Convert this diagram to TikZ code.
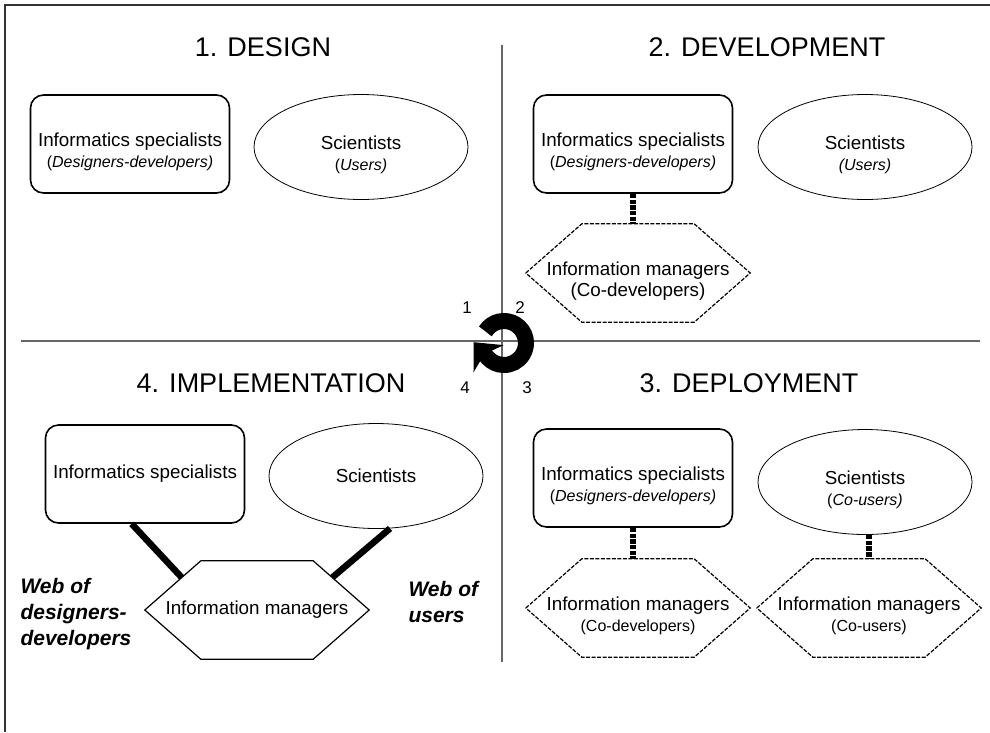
\documentclass[tikz,border=0pt]{standalone}
\usepackage{fontspec}
\setmainfont{Liberation Sans}
\usetikzlibrary{shapes.geometric,arrows.meta,calc}
\newcommand{\bodyfont}{\fontsize{18.8}{21}\selectfont}
\newcommand{\subfont}{\fontsize{16}{21}\selectfont}
\newcommand{\headfont}{\fontsize{27}{30}\selectfont}
% hexagon round a managers node
\newcommand{\hexpath}[1]{(#1.west) -- ([xshift=56pt]#1.north west) coordinate (#1-nw) -- ([xshift=-56pt]#1.north east) coordinate (#1-ne) -- (#1.east) -- ([xshift=-56pt]#1.south east) -- ([xshift=56pt]#1.south west) -- cycle}
\begin{document}
\begin{tikzpicture}[x=1pt,y=-1pt,
   informatics/.style={draw,line width=1.6pt,rounded corners=13pt,minimum width=199pt,minimum height=98pt,inner sep=0pt,align=center,font=\bodyfont},
   scientists/.style={ellipse,draw,line width=0.8pt,minimum width=214pt,minimum height=105pt,inner sep=0pt,align=center,font=\bodyfont},
   managers/.style={minimum width=224pt,minimum height=98pt,inner sep=0pt,align=center,font=\bodyfont},
   twoline/.style={text height=51pt},
   hexline/.style={line width=1.2pt},
   codash/.style={dash pattern=on 4pt off 1.5pt},
   tie/.style={line width=6.5pt},
   dottie/.style={line width=6pt,dash pattern=on 4.5pt off 1.2pt},
   phase/.style={font=\headfont},
   step num/.style={font=\fontsize{17}{20}\selectfont},
   web/.style={font=\fontsize{21}{26}\selectfont\bfseries\itshape,align=left,anchor=west}]
\useasboundingbox (0,0) rectangle (990,732);
% frame and quadrants
\draw[line width=1.8pt,black!80] (5,732) -- (5,5) -- (990,5);
\draw[line width=1.8pt,black!60] (502,45) -- (502,662);
\draw[line width=1.8pt,black!60] (21,341) -- (980,341);

% phase titles
\node[phase] (t1) at (263,47) {1. DESIGN};
\node[phase] (t2) at (767,47) {2. DEVELOPMENT};
\node[phase] (t4) at (271,383) {4. IMPLEMENTATION};
\node[phase] (t3) at (749,383) {3. DEPLOYMENT};

% cycle arrow
\coordinate (c) at (504,343);
\draw[line width=16pt,-{Stealth[width=40pt 0,length=22pt 0,inset=6pt 0]}] (c) ++(148:22pt) arc[start angle=148,end angle=-135,radius=22pt] -- ++(132:22pt);
\node[step num] (n1) at (467,308) {1};
\node[step num] (n2) at (520,308) {2};
\node[step num] (n4) at (465,388) {4};
\node[step num] (n3) at (527,388) {3};

% 1. design
\node[informatics,twoline] (inf1) at (130,144) {Informatics specialists\\{\subfont(\textit{Designers-developers)}}};
\node[scientists,twoline] (sci1) at (361,147) {Scientists\\{\subfont(\textit{Users)}}};

% 2. development
\node[informatics,twoline] (inf2) at (633,144) {Informatics specialists\\{\subfont(\textit{Designers-developers)}}};
\node[scientists,twoline] (sci2) at (865,147) {Scientists\\{\subfont\textit{(Users)}}};
\node[managers,twoline] (man2) at (638,273) {Information managers\\(Co-developers)};
\draw[hexline,codash] \hexpath{man2};
\draw[dottie] (inf2.south) -- (inf2.south |- man2.north);

% 4. implementation
\node[informatics] (inf4) at (145,474) {Informatics specialists};
\node[scientists] (sci4) at (376,476) {Scientists};
\node[managers] (man4) at (257,610) {Information managers};
\draw[hexline] \hexpath{man4};
\draw[tie] (inf4.255) -- ($(man4.west)!0.66!(man4-nw)$);
\draw[tie] (sci4.-75) -- ($(man4.east)!0.66!(man4-ne)$);
\node[web] (w1) at (17,614) {Web of\\designers-\\developers};
\node[web] (w2) at (405,602) {Web of\\users};

% 3. deployment
\node[informatics,twoline] (inf3) at (633,478) {Informatics specialists\\{\subfont(\textit{Designers-developers)}}};
\node[scientists,twoline] (sci3) at (865,482) {Scientists\\{\subfont(\textit{Co-users)}}};
\node[managers,twoline] (man3a) at (638,608) {Information managers\\{\subfont(Co-developers)}};
\node[managers,twoline] (man3b) at (869,608) {Information managers\\{\subfont(Co-users)}};
\draw[hexline,codash] \hexpath{man3a};
\draw[hexline,codash] \hexpath{man3b};
\draw[dottie] (inf3.south) -- (inf3.south |- man3a.north);
\draw[dottie] (man3b.north |- sci3.south) -- (man3b.north);
\end{tikzpicture}
\end{document}
